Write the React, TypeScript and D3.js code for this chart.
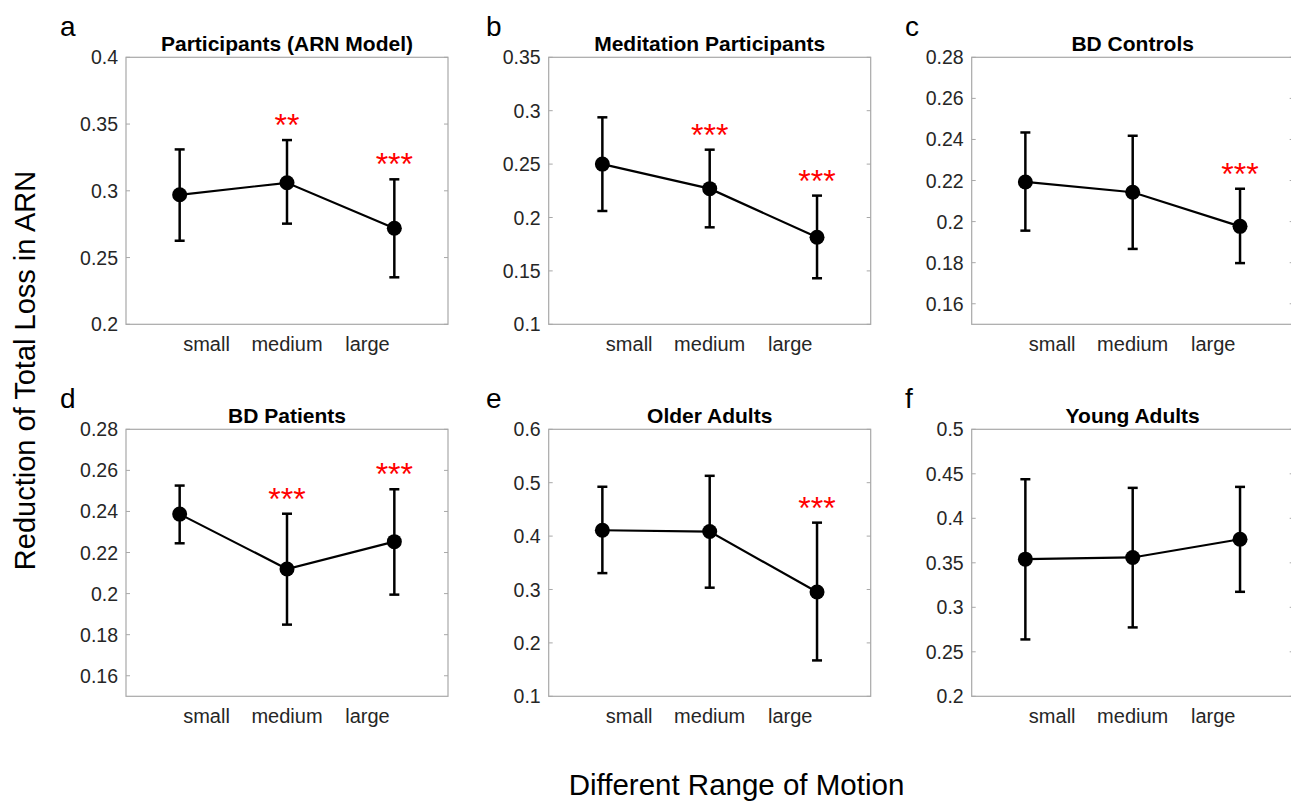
import React, { useEffect, useRef } from 'react';
import * as d3 from 'd3';

// categories on the x axis
const categories = ['small', 'medium', 'large'];

const panelLetters = ['a', 'b', 'c', 'd', 'e', 'f'];
const panelTitles = [
    'Participants (ARN Model)',
    'Meditation Participants',
    'BD Controls',
    'BD Patients',
    'Older Adults',
    'Young Adults',
];

// mean values per panel (small, medium, large)
const panelMeans = [
    [0.297, 0.306, 0.272],
    [0.25, 0.227, 0.1815],
    [0.2193, 0.2143, 0.1977],
    [0.2387, 0.212, 0.2253],
    [0.411, 0.4085, 0.2953],
    [0.3541, 0.356, 0.3765],
];

// error bar ends
const panelUpper = [
    [0.331, 0.338, 0.3086],
    [0.2938, 0.2635, 0.2205],
    [0.2434, 0.2418, 0.216],
    [0.2526, 0.2389, 0.2508],
    [0.4924, 0.5129, 0.4252],
    [0.4439, 0.4342, 0.4353],
];
const panelLower = [
    [0.2626, 0.2754, 0.2352],
    [0.2061, 0.1908, 0.1431],
    [0.1956, 0.1867, 0.1798],
    [0.2245, 0.1849, 0.1995],
    [0.3307, 0.3034, 0.1672],
    [0.2639, 0.2774, 0.3174],
];

// significance stars
const panelSig = [
    ['', '**', '***'],
    ['', '***', '***'],
    ['', '', '***'],
    ['', '***', '***'],
    ['', '', '***'],
    ['', '', ''],
];

const panelDomains = [
    [0.2, 0.4],
    [0.1, 0.35],
    [0.15, 0.28],
    [0.15, 0.28],
    [0.1, 0.6],
    [0.2, 0.5],
];

const panelTicks = [
    ['0.2', '0.25', '0.3', '0.35', '0.4'],
    ['0.1', '0.15', '0.2', '0.25', '0.3', '0.35'],
    ['0.16', '0.18', '0.2', '0.22', '0.24', '0.26', '0.28'],
    ['0.16', '0.18', '0.2', '0.22', '0.24', '0.26', '0.28'],
    ['0.1', '0.2', '0.3', '0.4', '0.5', '0.6'],
    ['0.2', '0.25', '0.3', '0.35', '0.4', '0.45', '0.5'],
];

const FONT = '"Liberation Sans", Arial, Helvetica, sans-serif';

const App = () => {
    const svgRef = useRef<SVGSVGElement>(null);

    useEffect(() => {
        const svg = d3.select(svgRef.current);
        svg.selectAll('*').remove();

        const width = 1291;
        const height = 803;
        svg.attr('width', width).attr('height', height);

        // panel layout
        const colLeft = [126, 548.7, 971.7];
        const rowTop = [57.3, 429.3];
        const plotW = 322;
        const plotH = 267;

        panelTitles.forEach((title, i) => {
            const col = i % 3;
            const row = Math.floor(i / 3);
            const g = svg.append('g')
                .attr('transform', `translate(${colLeft[col]},${rowTop[row]})`);

            const x = d3.scalePoint()
                .domain(categories)
                .range([0, plotW])
                .padding(0.5);
            // tick labels sit closer together than the points (quarter positions)
            const xLab = d3.scalePoint()
                .domain(categories)
                .range([0, plotW])
                .padding(1);
            const y = d3.scaleLinear()
                .domain(panelDomains[i])
                .range([plotH, 0]);

            // box
            g.append('rect')
                .attr('x', 0)
                .attr('y', 0)
                .attr('width', plotW)
                .attr('height', plotH)
                .attr('fill', 'white')
                .attr('stroke', '#a8a8a8')
                .attr('stroke-width', 1.2);

            // y ticks, inside on both sides
            const tickVals = panelTicks[i].map(Number);
            g.selectAll('.tl')
                .data(tickVals)
                .enter()
                .append('line')
                .attr('x1', 0)
                .attr('x2', 4)
                .attr('y1', d => y(d))
                .attr('y2', d => y(d))
                .attr('stroke', '#a8a8a8');
            g.selectAll('.tr')
                .data(tickVals)
                .enter()
                .append('line')
                .attr('x1', plotW - 4)
                .attr('x2', plotW)
                .attr('y1', d => y(d))
                .attr('y2', d => y(d))
                .attr('stroke', '#a8a8a8');

            g.selectAll('.ylab')
                .data(panelTicks[i])
                .enter()
                .append('text')
                .attr('x', -8)
                .attr('y', d => y(Number(d)))
                .attr('dy', '0.36em')
                .attr('text-anchor', 'end')
                .style('font-family', FONT)
                .style('font-size', '19.5px')
                .style('fill', '#262626')
                .text(d => d);

            // x labels
            g.selectAll('.xlab')
                .data(categories)
                .enter()
                .append('text')
                .attr('x', d => xLab(d) as number)
                .attr('y', plotH + 27)
                .attr('text-anchor', 'middle')
                .style('font-family', FONT)
                .style('font-size', '20px')
                .style('fill', '#262626')
                .text(d => d);

            // title
            g.append('text')
                .attr('x', plotW / 2)
                .attr('y', -6)
                .attr('text-anchor', 'middle')
                .style('font-family', FONT)
                .style('font-size', '21px')
                .style('font-weight', 'bold')
                .style('fill', 'black')
                .text(title);

            // panel letter
            g.append('text')
                .attr('x', [60, 486, 905][col] - colLeft[col])
                .attr('y', 36 - 57.3)
                .style('font-family', FONT)
                .style('font-size', '28px')
                .style('fill', 'black')
                .text(panelLetters[i]);

            const pts = categories.map((c, k) => ({
                c,
                m: panelMeans[i][k],
                hi: panelUpper[i][k],
                lo: panelLower[i][k],
                sig: panelSig[i][k],
            }));

            // error bars
            pts.forEach(p => {
                const px = x(p.c) as number;
                g.append('line')
                    .attr('x1', px).attr('x2', px)
                    .attr('y1', y(p.hi)).attr('y2', y(p.lo))
                    .attr('stroke', 'black').attr('stroke-width', 2.5);
                [p.hi, p.lo].forEach(v => {
                    g.append('line')
                        .attr('x1', px - 5).attr('x2', px + 5)
                        .attr('y1', y(v)).attr('y2', y(v))
                        .attr('stroke', 'black').attr('stroke-width', 2.5);
                });
            });

            // connecting line
            const line = d3.line<any>()
                .x(d => x(d.c) as number)
                .y(d => y(d.m));
            g.append('path')
                .datum(pts)
                .attr('d', line)
                .attr('fill', 'none')
                .attr('stroke', 'black')
                .attr('stroke-width', 2.2);

            // markers
            g.selectAll('.dot')
                .data(pts)
                .enter()
                .append('circle')
                .attr('cx', d => x(d.c) as number)
                .attr('cy', d => y(d.m))
                .attr('r', 7.5)
                .attr('fill', 'black');

            // significance stars
            g.selectAll('.sig')
                .data(pts.filter(p => p.sig))
                .enter()
                .append('text')
                .attr('x', d => x(d.c) as number)
                .attr('y', d => y(d.hi) - 4)
                .attr('text-anchor', 'middle')
                .style('font-family', FONT)
                .style('font-size', '32px')
                .style('fill', 'red')
                .text(d => d.sig);
        });

        // shared axis labels
        svg.append('text')
            .attr('transform', 'translate(35,370.5) rotate(-90)')
            .attr('text-anchor', 'middle')
            .style('font-family', FONT)
            .style('font-size', '29px')
            .style('fill', 'black')
            .text('Reduction of Total Loss in ARN');

        svg.append('text')
            .attr('x', 736.5)
            .attr('y', 795)
            .attr('text-anchor', 'middle')
            .style('font-family', FONT)
            .style('font-size', '29.5px')
            .style('fill', 'black')
            .text('Different Range of Motion');
    }, []);

    return (
        <svg ref={svgRef} style={{ position: 'absolute', left: 0, top: 0, background: 'white' }}></svg>
    );
};

export default App;
